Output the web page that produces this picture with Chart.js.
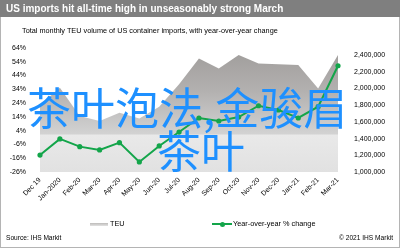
<!DOCTYPE html>
<html>
<head>
<meta charset="utf-8">
<script src="https://cdn.jsdelivr.net/npm/chart.js@4"></script>
<style>
  html, body { margin: 0; padding: 0; background: #fff; }
  #wrap { position: relative; width: 400px; height: 248px; overflow: hidden; font-family: "Liberation Sans", Arial, sans-serif; }
  #frame { position: absolute; left: 0; top: 0; width: 398px; height: 246px; border: 1px solid #b4b4b4; }
  #titlebar { position: absolute; left: 0; top: 0; width: 400px; height: 17px; background: #7f7f7f; color: #fff;
    font-weight: bold; font-size: 10px; line-height: 17px; text-indent: 6px; }
  #subtitle { position: absolute; left: 22px; top: 26px; font-size: 7.3px; color: #000; white-space: nowrap; }
  #chart { position: absolute; left: 0; top: 0; }
  .legend { position: absolute; top: 219px; font-size: 7.3px; color: #000; white-space: nowrap; }
  .foot { position: absolute; top: 234px; font-size: 6.6px; color: #000; white-space: nowrap; }
  #mark { position: absolute; color: #1e90ff; font-family: "Noto Sans CJK SC", sans-serif; font-size: 44px;
    line-height: 43px; white-space: nowrap; }
</style>
</head>
<body>
<div id="wrap">
  <canvas id="chart" width="400" height="248"></canvas>
  <div id="frame"></div>
  <div id="titlebar">US imports hit all-time high in unseasonably strong March</div>
  <div id="subtitle">Total monthly TEU volume of US container imports, with year-over-year change</div>
  <div class="legend" style="left:90px;"><span style="display:inline-block;width:18px;height:3px;background:linear-gradient(#bdbbb9,#e2e2e2);vertical-align:middle;margin-right:2px;"></span>TEU</div>
  <div class="legend" style="left:212px;"><span style="display:inline-block;position:relative;width:20px;height:2px;background:#13a54a;vertical-align:middle;margin-right:1px;"><span style="position:absolute;left:8px;top:-1.5px;width:5px;height:5px;border-radius:50%;background:#13a54a;"></span></span>Year-over-year % change</div>
  <div class="foot" style="left:6px;">Source: IHS Markit</div>
  <div class="foot" style="right:7px;">© 2021 IHS Markit</div>
  <div id="mark" style="left:27px;top:85px;">茶叶泡法,金骏眉</div>
  <div id="mark2" style="position:absolute;left:157px;top:128px;color:#1e90ff;font-family:'Noto Sans CJK SC',sans-serif;font-size:44px;line-height:43px;white-space:nowrap;">茶叶</div>
</div>
<script>
// 月份
const months = ['Dec 19', 'Jan-2020', 'Feb-20', 'Mar-20', 'Apr-20', 'May-20', 'Jun-20', 'Jul-20',
  'Aug-20', 'Sep-20', 'Oct-20', 'Nov-20', 'Dec-20', 'Jan-21', 'Feb-21', 'Mar-21'];

// 每月进口量 (TEU)
const teu = [1800000, 2010000, 1670000, 1610000, 1710000, 1640000, 1780000, 2050000,
  2360000, 2240000, 2400000, 2300000, 2290000, 2280000, 2000000, 2400000];

// 同比变化 (%)
const yoy = [-13.7, -2.0, -7.6, -10.0, -4.7, -18.7, -7.1, 3.0, 13.2, 11.0, 13.9, 22.1, 19.0, 13.2, 21.4, 51.1];

// 刻度
const pctTicks = [-26, -16, -6, 4, 14, 24, 34, 44, 54, 64];
const teuTicks = [1000000, 1200000, 1400000, 1600000, 1800000, 2000000, 2200000, 2400000];

const tickFont = { family: 'Liberation Sans', size: 7 };

// 面积渐变
function areaFill(context) {
  const area = context.chart.chartArea;
  if (!area) return '#c8c8c8';
  const g = context.chart.ctx.createLinearGradient(0, area.top, 0, area.bottom);
  g.addColorStop(0, '#9f9c9a');
  g.addColorStop(0.35, '#b3b1b0');
  g.addColorStop(0.69, '#d2d2d2');
  g.addColorStop(0.705, '#e9e9e9');
  g.addColorStop(1, '#e1e1e1');
  return g;
}

new Chart(document.getElementById('chart'), {
  type: 'line',
  data: {
    labels: months,
    datasets: [{
      label: 'Year-over-year % change',
      data: yoy,
      yAxisID: 'y',
      borderColor: '#13a54a',
      backgroundColor: '#13a54a',
      borderWidth: 2,
      pointRadius: 2.6,
      pointBorderWidth: 0,
      tension: 0,
      order: 0
    }, {
      label: 'TEU',
      data: teu,
      yAxisID: 'y1',
      borderWidth: 0,
      pointRadius: 0,
      fill: 'start',
      backgroundColor: areaFill,
      tension: 0,
      order: 1
    }]
  },
  options: {
    responsive: false,
    animation: false,
    layout: { padding: { left: 0, right: 0, top: 48, bottom: 0 } },
    plugins: { legend: { display: false }, tooltip: { enabled: false } },
    scales: {
      x: {
        offset: false,
        grid: { display: false, drawTicks: false },
        border: { display: false },
        ticks: { font: tickFont, color: '#000', minRotation: 45, maxRotation: 45, autoSkip: false, padding: 4 },
        afterFit: (s) => { s.height = 248 - 172; }
      },
      y: {
        position: 'left',
        min: -26, max: 64,
        grid: { display: false, drawTicks: false },
        border: { display: false },
        ticks: { font: tickFont, color: '#000', padding: 14, callback: (v) => v + '%' },
        afterBuildTicks: (s) => { s.ticks = pctTicks.map(v => ({ value: v })); },
        afterFit: (s) => { s.width = 40; }
      },
      y1: {
        position: 'right',
        min: 1000000, max: 2485000,
        grid: { display: false, drawTicks: false },
        border: { display: false },
        ticks: { font: tickFont, color: '#000', padding: 16, callback: (v) => v.toLocaleString('en-US') },
        afterBuildTicks: (s) => { s.ticks = teuTicks.map(v => ({ value: v })); },
        afterFit: (s) => { s.width = 400 - 338; }
      }
    }
  }
});
</script>
</body>
</html>
